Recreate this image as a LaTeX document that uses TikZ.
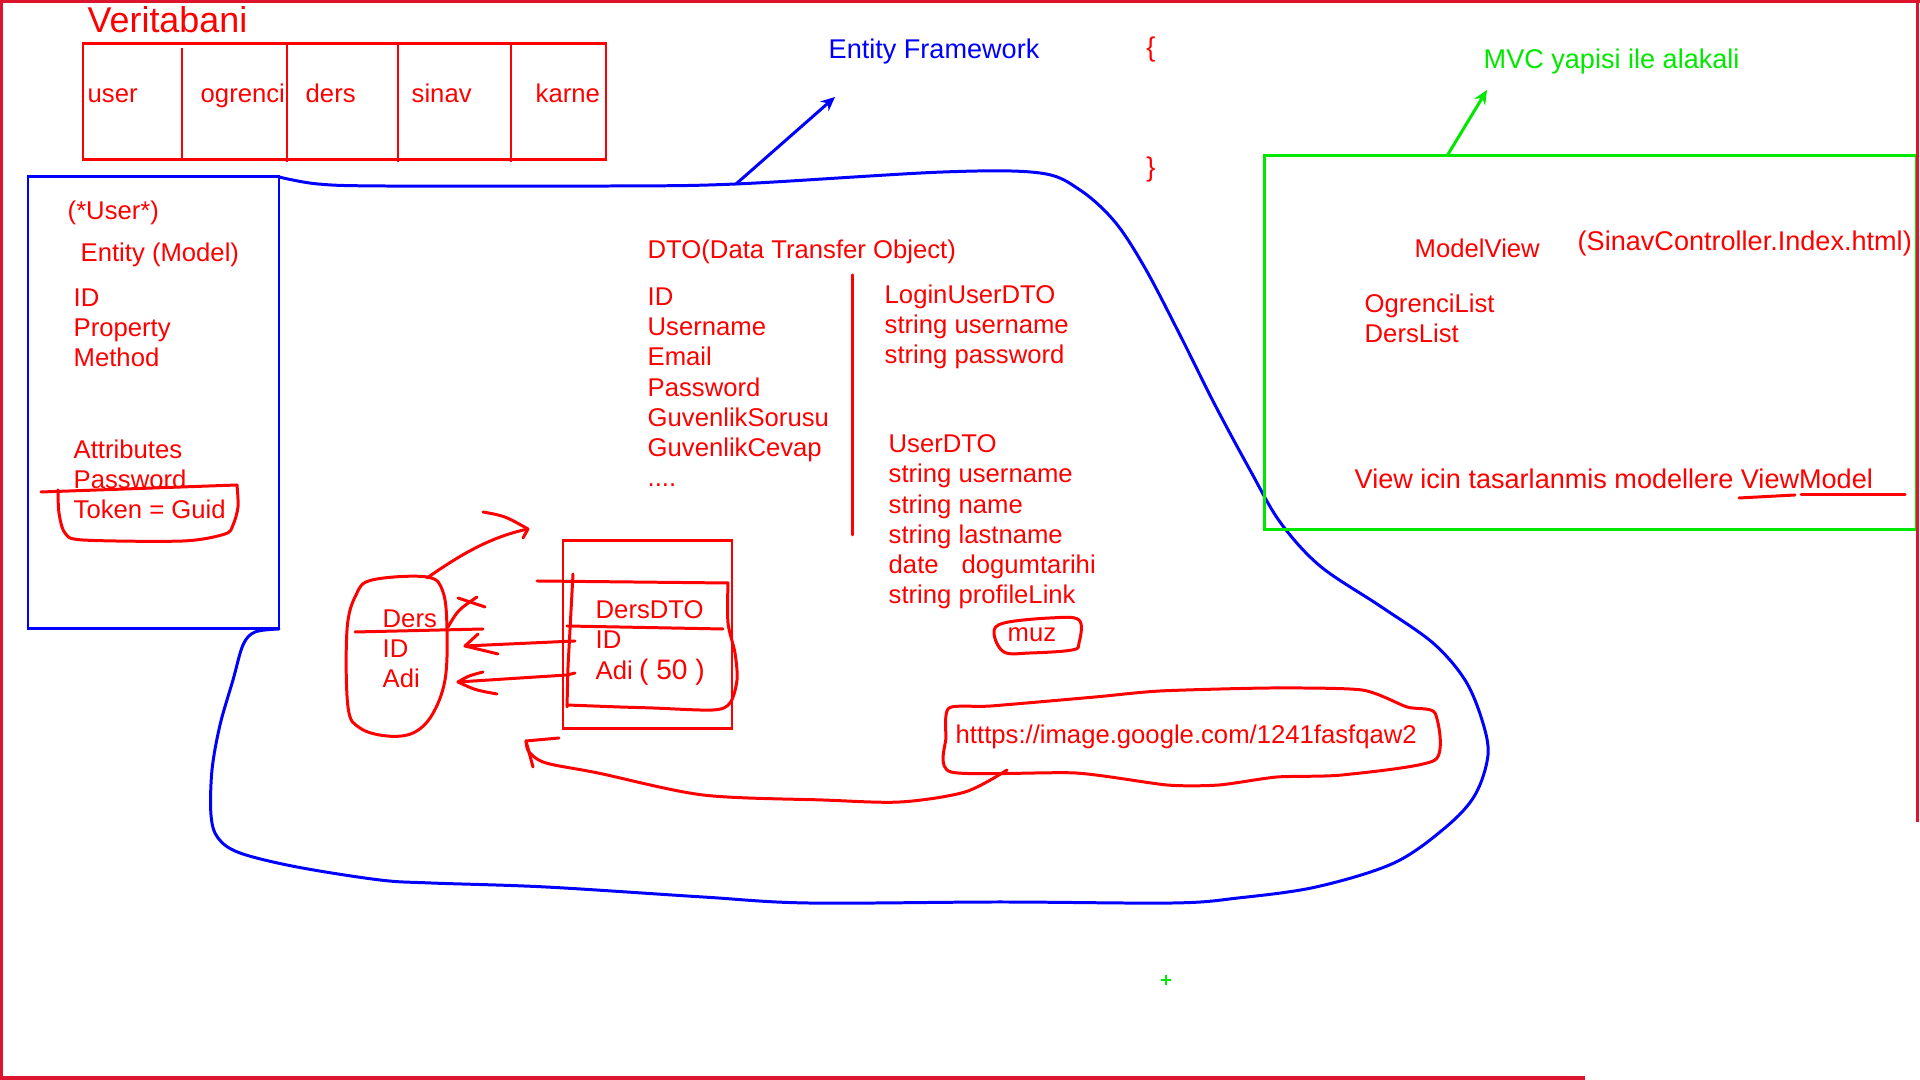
\documentclass[tikz,border=0pt]{standalone}
\usepackage{fontspec}
\setmainfont{Liberation Sans}
\usetikzlibrary{arrows.meta, positioning}
\definecolor{penred}{RGB}{255,0,0}
\definecolor{penblue}{RGB}{0,0,255}
\definecolor{pengreen}{RGB}{0,232,0}
\definecolor{framered}{RGB}{220,20,45}

\begin{document}
\begin{tikzpicture}[x=0.01cm, y=-0.01cm,
        lbl/.style={text=penred, inner sep=0pt, anchor=base west, font=\fontsize{7.3}{8.6}\selectfont},
        biglbl/.style={lbl, font=\fontsize{7.7}{8.8}\selectfont},
        blbl/.style={biglbl, text=penblue},
        glbl/.style={biglbl, text=pengreen},
        col/.style={lbl, align=left, anchor=north west},
        box/.style={draw=penred, line width=0.85pt},
        redpen/.style={draw=penred, line width=0.85pt, line cap=round, line join=round},
        bluepen/.style={draw=penblue, line width=0.85pt, line cap=round, line join=round},
        greenpen/.style={draw=pengreen, line width=0.85pt},
        frame/.style={draw=framered, line width=0.9pt}
      ]
      \useasboundingbox (0,0) rectangle (1920,1080);

      \node[lbl, font=\fontsize{10.2}{12}\selectfont] (db) at (87,33) {Veritabani};
      \draw[box] (83,44) rectangle (606,160);
      \draw[box] (182,48) -- (182,160);
      \draw[box] (287,44) -- (287,162);
      \draw[box] (398,44) -- (398,162);
      \draw[box] (511,44) -- (511,162);
      \node[lbl] (usr) at (87,103) {user};
      \node[lbl] (ogr) at (200,103) {ogrenci};
      \node[lbl] (drs) at (305,103) {ders};
      \node[lbl] (snv) at (411,103) {sinav};
      \node[lbl] (krn) at (535,103) {karne};

      \draw[draw=penblue, line width=0.85pt] (28,177) rectangle (279,629);
      \node[lbl] (ent) at (67,220) {(*User*)};
      \node[lbl] (mdl) at (80,262) {Entity (Model)};
      \node[col] (mbr) at (73,288) {ID\\Property\\Method};
      \node[col] (att) at (73,439) {Attributes\\Password\\Token = Guid};
      \draw[redpen] (41,492) -- (237,485);
      \draw[redpen] plot[smooth, tension=0.5] coordinates {(237,485) (238,507) (233,525) (225,534) (183,541) (83,540) (65,533) (59,513) (58,490)};

      \draw[bluepen] plot[smooth, tension=0.55] coordinates {(279,177) (318,184) (384,186) (612,186) (736,184) (943,172) (1040,173) (1080,190) (1115,222) (1145,268) (1180,335) (1215,405) (1250,470) (1280,522) (1320,566) (1380,606) (1433,643) (1465,680) (1482,720) (1488,755) (1475,795) (1446,827) (1394,863) (1316,887) (1238,898) (1173,903) (1000,902) (808,903) (703,897) (546,887) (431,883) (380,880) (297,867) (240,853) (218,838) (211,815) (212,770) (220,725) (233,680) (243,645) (255,632) (279,629)};
      \coordinate (efbase) at (736,184);
      \coordinate (eftip) at (835,97);
      \draw[bluepen, -{Stealth[length=4pt, width=3.6pt]}] (efbase) -- (eftip);
      \node[blbl] (ef) at (828,59) {Entity Framework};
      \node[biglbl, anchor=center] (lbr) at (1151,50) {\{};
      \node[biglbl, anchor=center] (rbr) at (1151,170) {\}};

      \node[lbl] (dto) at (647,259) {DTO(Data Transfer Object)};
      \node[col] (dtoprops) at (647,287) {ID\\Username\\Email\\Password\\GuvenlikSorusu\\GuvenlikCevap\\....};
      \draw[redpen] (852,275) -- (852,535);
      \node[col] (login) at (884,284) {LoginUserDTO\\string username\\string password};
      \node[col] (userdto) at (888,434) {UserDTO\\string username\\string name\\string lastname\\date\hspace{4.5pt} dogumtarihi\\string profileLink};

      \node[lbl] (muz) at (1007,642) {muz};
      \draw[redpen] plot[smooth cycle, tension=0.6] coordinates {(994,633) (1004,623) (1050,618) (1079,620) (1079,643) (1072,650) (1030,653) (1004,652)};

      \node[lbl] (url) at (955,744) {htttps://image.google.com/1241fasfqaw2};
      \draw[redpen] plot[smooth cycle, tension=0.4] coordinates {(949,708) (991,706) (1095,697) (1160,691) (1271,688) (1362,690) (1407,707) (1435,713) (1435,760) (1342,775) (1277,777) (1219,785) (1167,785) (1076,773) (951,772) (946,737)};
      \coordinate (urlfoot) at (1007,770);
      \coordinate (urltip) at (526,741);
      \draw[redpen] plot[smooth, tension=0.5] coordinates {(urlfoot) (965,792) (900,802) (823,800) (703,795) (598,773) (546,763) (529,752) (urltip)};
      \draw[redpen] (urltip) -- (559,738);
      \draw[redpen] (urltip) -- (533,767);

      \node[col] (ders) at (382,609) {Ders\\ID\\Adi};
      \draw[redpen] plot[smooth cycle, tension=0.6] coordinates {(427,577) (443,592) (447,630) (445,680) (432,715) (413,733) (387,736) (360,728) (348,707) (347,630) (356,595) (372,580)};
      \draw[redpen] (355,632) -- (483,629);
      \draw[redpen] (448,627) .. controls (458,610) .. (477,597);
      \draw[redpen] (458,598) -- (485,607);
      \coordinate (derstop) at (427,578);
      \coordinate (derstip) at (528,529);
      \draw[redpen] (derstop) .. controls (460,555) and (490,537) .. (derstip);
      \draw[redpen] (483,512) .. controls (505,516) .. (derstip) -- (523,538);

      \draw[box] (563,541) rectangle (732,729);
      \node[col] (dersdto) at (595,600) {DersDTO\\ID\\Adi};
      \node[lbl, anchor=center, font=\fontsize{8}{9}\selectfont] (len) at (672,672) {( 50 )};
      \draw[redpen] (537,581) -- (728,583);
      \draw[redpen] (573,574) -- (568,667) -- (567,707);
      \draw[redpen] plot[smooth, tension=0.5] coordinates {(567,705) (620,707) (653,708) (713,710) (730,703) (737,680) (735,653) (728,623) (728,583)};
      \draw[redpen] (567,626) -- (723,629);
      \coordinate (dtoid) at (575,641);
      \coordinate (dersid) at (465,646);
      \draw[redpen] (dtoid) -- (dersid);
      \draw[redpen] (478,634) -- (dersid) -- (498,654);
      \coordinate (dtoadi) at (575,673);
      \coordinate (dersadi) at (458,682);
      \draw[redpen] (dtoadi) -- (567,675) -- (dersadi);
      \draw[redpen] (483,672) .. controls (468,676) .. (dersadi) .. controls (475,690) .. (497,694);

      \draw[greenpen] (1264,156) rectangle (1916,530);
      \coordinate (mvcbase) at (1447,156);
      \coordinate (mvctip) at (1487,90);
      \draw[greenpen, -{Stealth[length=4pt, width=3.6pt]}] (mvcbase) -- (mvctip);
      \node[glbl] (mvc) at (1483,69) {MVC yapisi ile alakali};
      \node[lbl] (mv) at (1414,258) {ModelView};
      \node[biglbl] (ctrl) at (1577,251) {(SinavController.Index.html)};
      \node[biglbl, col] (lists) at (1364,293) {OgrenciList\\DersList};
      \node[biglbl] (vm) at (1354,489) {View icin tasarlanmis modellere ViewModel};
      \draw[redpen] (1739,498) -- (1795,495);
      \draw[redpen] (1801,495) -- (1905,495);
      \draw[greenpen, line width=0.5pt] (1161,980) -- (1171,980) (1166,975) -- (1166,985);

      \draw[frame] (0,1.5) -- (1920,1.5);
      \draw[frame] (1.5,0) -- (1.5,1080);
      \draw[frame] (1917.5,0) -- (1917.5,822);
      \draw[frame] (0,1078) -- (1585,1078);
    \end{tikzpicture}
\end{document}
